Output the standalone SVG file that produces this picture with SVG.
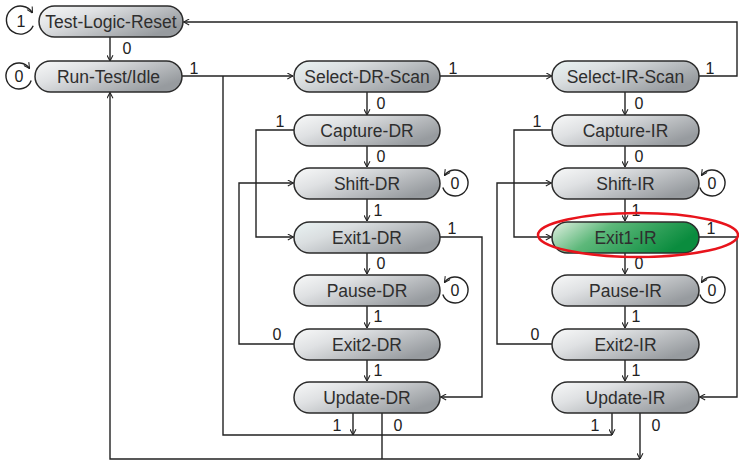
<svg xmlns="http://www.w3.org/2000/svg" width="739" height="462" viewBox="0 0 739 462">
<style>
.n rect{stroke:#2b2b2b;stroke-width:1.5;fill:url(#g)}
.n.s rect{fill:url(#gs)}
.n.hl rect{fill:url(#gg)}
.n text{font-family:"Liberation Sans",Arial,sans-serif;font-size:17.5px;fill:#2e2e2e;text-anchor:middle}
.c path{stroke:#222;stroke-width:1.4;fill:none}
.c path.a{marker-end:url(#ar)}
.lb{font-family:"Liberation Sans",Arial,sans-serif;font-size:16px;fill:#222;text-anchor:middle}
.lp{stroke:#222;stroke-width:1.3;fill:none;marker-end:url(#ar)}
</style>
<defs>
<linearGradient id="g" x1="0" y1="0" x2="1" y2="0.6">
<stop offset="0" stop-color="#f8f9f9"/><stop offset="0.35" stop-color="#dfe1e3"/><stop offset="1" stop-color="#979b9f"/>
</linearGradient>
<linearGradient id="gs" x1="0" y1="0" x2="1" y2="0.6">
<stop offset="0" stop-color="#eaf4f4"/><stop offset="0.35" stop-color="#dadee0"/><stop offset="1" stop-color="#979b9f"/>
</linearGradient>
<linearGradient id="gg" x1="0" y1="0" x2="1" y2="0.3">
<stop offset="0" stop-color="#e4f1e4"/><stop offset="0.4" stop-color="#5db87a"/><stop offset="1" stop-color="#0a8c3e"/>
</linearGradient>
<marker id="ar" viewBox="0 0 8 8" refX="7.5" refY="4" markerWidth="7" markerHeight="7" markerUnits="userSpaceOnUse" orient="auto">
<path d="M1,0.6 L7.5,4 L1,7.4" stroke="#222" stroke-width="1.2" fill="none"/>
</marker>
</defs>
<rect width="739" height="462" fill="#fff"/>

<g id="connectors" class="c">
<path class="a" d="M110,37 V61"/>
<path class="a" d="M182,76 H293"/>
<path d="M223,76 V435 H612"/>
<path class="a" d="M353,413 V435"/>
<path class="a" d="M612,413 V435"/>
<path d="M382,413 V459"/>
<path class="a" d="M640,413 V459"/>
<path class="a" d="M640,459 H110 V92.5"/>
<path class="a" d="M440,76 H552"/>
<path class="a" d="M699,76 H737 V22 H183.5"/>
<path class="a" d="M367,92 V115"/>
<path class="a" d="M367,146 V167"/>
<path class="a" d="M367,199 V221"/>
<path class="a" d="M367,253 V274"/>
<path class="a" d="M367,306 V328"/>
<path class="a" d="M367,360 V381"/>
<path class="a" d="M625,92 V115"/>
<path class="a" d="M625,146 V167"/>
<path class="a" d="M625,199 V221"/>
<path class="a" d="M625,253 V274"/>
<path class="a" d="M625,306 V328"/>
<path class="a" d="M625,360 V381"/>
<path class="a" d="M294,130 H256 V237 H293.5"/>
<path class="a" d="M294,344 H239 V183 H293.5"/>
<path class="a" d="M440,237 H482 V397 H440.5"/>
<path class="a" d="M552,130 H514 V237 H551.5"/>
<path class="a" d="M552,344 H497 V183 H551.5"/>
<path class="a" d="M699,237 H737 V397 H699.5"/>
<path class="lp" d="M33.2,25.8 A14,14 0 1 1 32.5,13"/>
<path class="lp" d="M31.2,80.4 A13,13 0 1 1 29.6,68.5"/>
<path class="lp" d="M442.8,187.4 A13,13 0 1 0 444.4,175.5"/>
<path class="lp" d="M442.8,294.4 A13,13 0 1 0 444.4,282.5"/>
<path class="lp" d="M699.8,187.4 A13,13 0 1 0 701.4,175.5"/>
<path class="lp" d="M699.8,294.4 A13,13 0 1 0 701.4,282.5"/>
</g>

<g id="labels">
<text class="lb" x="21" y="27">1</text>
<text class="lb" x="19" y="82">0</text>
<text class="lb" x="455" y="189">0</text>
<text class="lb" x="455" y="296">0</text>
<text class="lb" x="712" y="189">0</text>
<text class="lb" x="712" y="296">0</text>
<text class="lb" x="127" y="54">0</text>
<text class="lb" x="194" y="74">1</text>
<text class="lb" x="453" y="74">1</text>
<text class="lb" x="710" y="74">1</text>
<text class="lb" x="381" y="109">0</text>
<text class="lb" x="381" y="162">0</text>
<text class="lb" x="378" y="216">1</text>
<text class="lb" x="381" y="269">0</text>
<text class="lb" x="378" y="322">1</text>
<text class="lb" x="378" y="376">1</text>
<text class="lb" x="639" y="109">0</text>
<text class="lb" x="639" y="162">0</text>
<text class="lb" x="636" y="216">1</text>
<text class="lb" x="639" y="269">0</text>
<text class="lb" x="636" y="322">1</text>
<text class="lb" x="636" y="376">1</text>
<text class="lb" x="280" y="127">1</text>
<text class="lb" x="277" y="340">0</text>
<text class="lb" x="452" y="234">1</text>
<text class="lb" x="537" y="127">1</text>
<text class="lb" x="535" y="340">0</text>
<text class="lb" x="711" y="234">1</text>
<text class="lb" x="337" y="431">1</text>
<text class="lb" x="398" y="431">0</text>
<text class="lb" x="595" y="431">1</text>
<text class="lb" x="656" y="431">0</text>
</g>

<g id="test-logic-reset" class="n"><rect x="39" y="6" width="144" height="31" rx="15.5"/><text x="111" y="28">Test-Logic-Reset</text></g>
<g id="run-test-idle" class="n"><rect x="35" y="61" width="147" height="31" rx="15.5"/><text x="108.5" y="83">Run-Test/Idle</text></g>

<g id="select-dr-scan" class="n s"><rect x="294" y="61" width="146" height="31" rx="15.5"/><text x="367" y="83">Select-DR-Scan</text></g>
<g id="capture-dr" class="n"><rect x="294" y="115" width="146" height="31" rx="15.5"/><text x="367" y="137">Capture-DR</text></g>
<g id="shift-dr" class="n"><rect x="294" y="168" width="146" height="31" rx="15.5"/><text x="367" y="190">Shift-DR</text></g>
<g id="exit1-dr" class="n s"><rect x="294" y="222" width="146" height="31" rx="15.5"/><text x="367" y="244">Exit1-DR</text></g>
<g id="pause-dr" class="n"><rect x="294" y="275" width="146" height="31" rx="15.5"/><text x="367" y="297">Pause-DR</text></g>
<g id="exit2-dr" class="n"><rect x="294" y="329" width="146" height="31" rx="15.5"/><text x="367" y="351">Exit2-DR</text></g>
<g id="update-dr" class="n"><rect x="294" y="382" width="146" height="31" rx="15.5"/><text x="367" y="404">Update-DR</text></g>

<g id="select-ir-scan" class="n s"><rect x="552" y="61" width="147" height="31" rx="15.5"/><text x="625.5" y="83">Select-IR-Scan</text></g>
<g id="capture-ir" class="n"><rect x="552" y="115" width="147" height="31" rx="15.5"/><text x="625.5" y="137">Capture-IR</text></g>
<g id="shift-ir" class="n"><rect x="552" y="168" width="147" height="31" rx="15.5"/><text x="625.5" y="190">Shift-IR</text></g>
<g id="exit1-ir" class="n hl"><rect x="552" y="222" width="147" height="31" rx="15.5"/><text x="625.5" y="244">Exit1-IR</text></g>
<g id="pause-ir" class="n"><rect x="552" y="275" width="147" height="31" rx="15.5"/><text x="625.5" y="297">Pause-IR</text></g>
<g id="exit2-ir" class="n"><rect x="552" y="329" width="147" height="31" rx="15.5"/><text x="625.5" y="351">Exit2-IR</text></g>
<g id="update-ir" class="n"><rect x="552" y="382" width="147" height="31" rx="15.5"/><text x="625.5" y="404">Update-IR</text></g>

<ellipse id="highlight" cx="638" cy="235" rx="100" ry="22" fill="none" stroke="#e8141c" stroke-width="2.5"/>
</svg>
